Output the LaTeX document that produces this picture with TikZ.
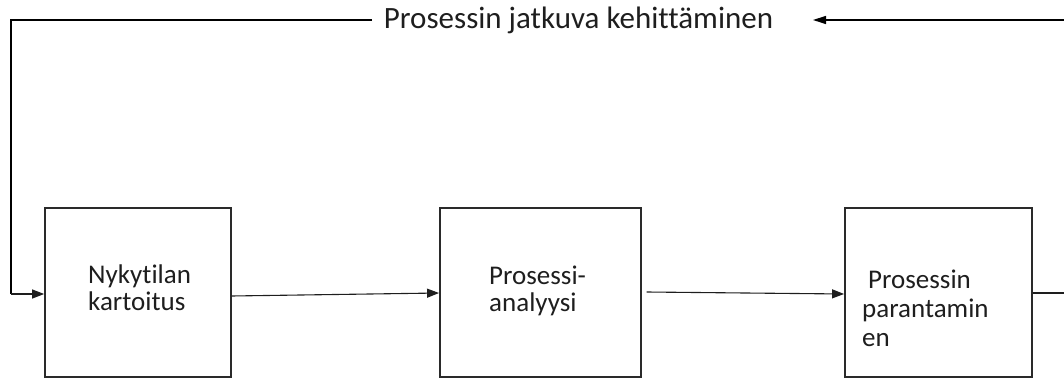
\documentclass[tikz,border=0pt]{standalone}
\usepackage{fontspec}
\setmainfont[Ligatures=NoCommon]{Carlito}
\usetikzlibrary{arrows.meta}
\definecolor{ink}{HTML}{1E1E1E}
\definecolor{edge}{HTML}{2A2A2A}
\tikzset{
  stage/.style={draw=edge, line width=1.8pt, minimum height=169pt, inner sep=0pt},
  lbl/.style={text=ink, font=\fontsize{27}{27}\selectfont, align=left, inner sep=0pt, anchor=base west},
  conn/.style={draw=ink, line width=1.1pt, -{Triangle[length=12pt,width=9pt]}},
  fb/.style={draw=black, line width=1.3pt}
}
\begin{document}
\begin{tikzpicture}[x=1pt,y=-1pt]
  \useasboundingbox (0,0) rectangle (1064,379);
  % process stages
  \node[stage, minimum width=185.7pt] (b1) at (137.9,292.5) {};
  \node[stage, minimum width=200.7pt] (b2) at (540.3,292.5) {};
  \node[stage, minimum width=186.7pt] (b3) at (938.3,292.5) {};
  % stage labels (anchored at the baseline of the last line)
  \node[lbl] (t1) at (88,310) {Nykytilan\\kartoitus};
  \node[lbl] (t2) at (489,311) {Prosessi-\\analyysi};
  \node[lbl, font=\fontsize{27}{29.3}\selectfont] (t3) at (862,346.7) {\hspace*{6pt}Prosessin\\parantamin\\en};
  % feedback label
  \node[text=ink, font=\fontsize{31}{33}\selectfont, inner sep=0pt, anchor=base] (fbt) at (578.5,28.3) {Prosessin jatkuva kehittäminen};
  \coordinate (fbl) at (372,20);
  \coordinate (corner) at (11,20);
  \coordinate (down) at (11,294);
  \coordinate (outR) at (1064,293);
  \coordinate (inR) at (1064,20);
  \coordinate (tipT) at (813,20);
  % flow between stages
  \draw[conn] ([yshift=-3.5pt]b1.east) -- ([yshift=-0.5pt]b2.west);
  \draw[conn] ([xshift=5pt,yshift=0.5pt]b2.east) -- ([yshift=-1.5pt]b3.west);
  \draw[draw=ink, line width=1.1pt] ([yshift=-0.5pt]b3.east) -- (outR);
  % continuous improvement loop
  \draw[fb, -{Triangle[length=13pt,width=8pt]}] (inR) -- (tipT);
  \draw[fb] (fbl) -- (corner) -- (down);
  \draw[conn] (down) -- ([yshift=-1.5pt]b1.west);
\end{tikzpicture}
\end{document}
